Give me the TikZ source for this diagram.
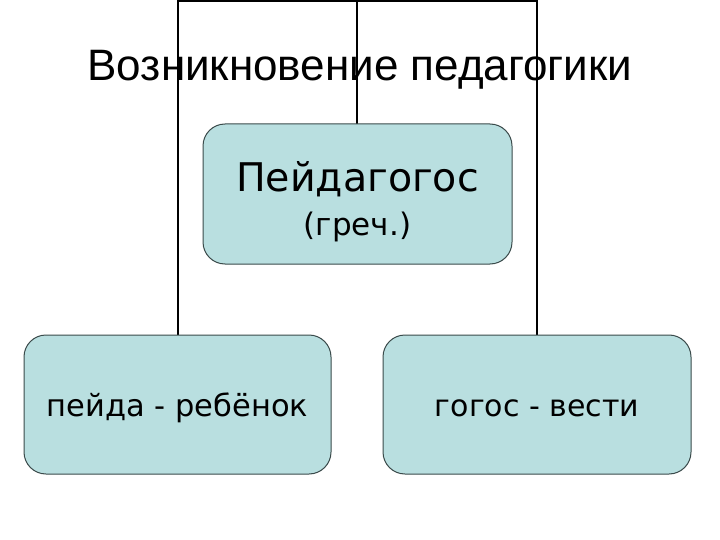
\documentclass[tikz,border=0pt]{standalone}
\usepackage{fontspec}
\setmainfont{DejaVu Sans}
\newfontfamily\titlefont{Liberation Sans}
\definecolor{boxfill}{HTML}{B9DFE0}
\definecolor{boxdraw}{HTML}{3A4A4A}
\begin{document}
\begin{tikzpicture}[x=1pt,y=-1pt,
  cbox/.style={draw=boxdraw,line width=1pt,fill=boxfill,rounded corners=22pt},
  conn/.style={line width=2pt,black}]
\useasboundingbox (0,0) rectangle (720,540);
\node[anchor=base,font=\titlefont\fontsize{44}{50}\selectfont] (title) at (360,81) {Возникновение педагогики};
\coordinate (tl) at (178,1);
\coordinate (tm) at (357,1);
\coordinate (tr) at (537,1);
\draw[conn] (178,335) -- (tl) -- (tr) -- (537,335);
\draw[conn] (tm) -- (357,124);
\path[cbox] (203,124) rectangle (512,264);
\node[anchor=base,font=\fontsize{39.5}{44}\selectfont] (top) at (357.5,192) {Пейдагогос};
\node[anchor=base,font=\fontsize{31}{36}\selectfont] (topsub) at (357.5,236) {(греч.)};
\path[cbox] (24,335) rectangle (331,474);
\node[anchor=base,font=\fontsize{30.5}{36}\selectfont] (left) at (177.5,416) {пейда - ребёнок};
\path[cbox] (383,335) rectangle (691,474);
\node[anchor=base,font=\fontsize{30}{36}\selectfont] (right) at (537,416) {гогос - вести};
\end{tikzpicture}
\end{document}
